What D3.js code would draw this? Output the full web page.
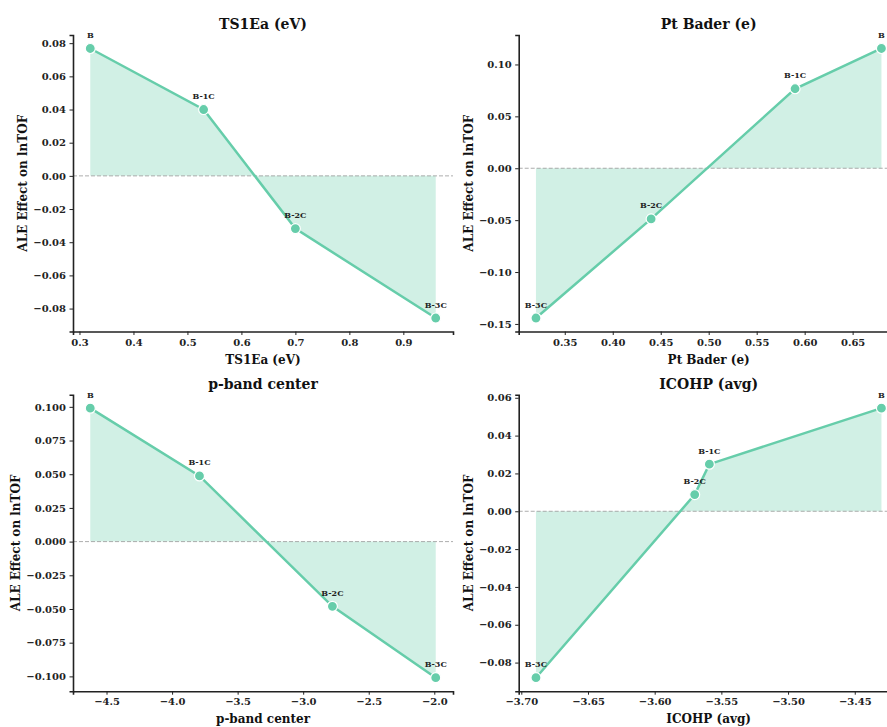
<!DOCTYPE html>
<html>
<head>
<meta charset="utf-8">
<script src="https://cdn.jsdelivr.net/npm/d3@7"></script>
<style>
  body { margin: 0; background: #fff; }
  svg { display: block; font-family: 'DejaVu Serif', serif; font-weight: bold; }
</style>
</head>
<body>
<div id="chart"></div>
<script>
// structures, same order in every panel
const categories = ['B', 'B-1C', 'B-2C', 'B-3C'];

const ts1eaX = [0.32, 0.53, 0.70, 0.96];
const ts1eaY = [0.0768, 0.0400, -0.0318, -0.0857];
const ts1eaXTicks = [0.3, 0.4, 0.5, 0.6, 0.7, 0.8, 0.9];
const ts1eaYTicks = [-0.08, -0.06, -0.04, -0.02, 0.00, 0.02, 0.04, 0.06, 0.08];

const baderX = [0.68, 0.59, 0.44, 0.32];
const baderY = [0.1154, 0.0766, -0.0488, -0.1443];
const baderXTicks = [0.35, 0.40, 0.45, 0.50, 0.55, 0.60, 0.65];
const baderYTicks = [-0.15, -0.10, -0.05, 0.00, 0.05, 0.10];

const pbandX = [-4.624, -3.791, -2.777, -1.989];
const pbandY = [0.0990, 0.0487, -0.0480, -0.1010];
const pbandXTicks = [-4.5, -4.0, -3.5, -3.0, -2.5, -2.0];
const pbandYTicks = [-0.100, -0.075, -0.050, -0.025, 0.000, 0.025, 0.050, 0.075, 0.100];

const icohpX = [-3.430, -3.559, -3.570, -3.689];
const icohpY = [0.0545, 0.0249, 0.0088, -0.0880];
const icohpXTicks = [-3.70, -3.65, -3.60, -3.55, -3.50, -3.45];
const icohpYTicks = [-0.08, -0.06, -0.04, -0.02, 0.00, 0.02, 0.04, 0.06];

const panels = [
  { title: 'TS1Ea (eV)', xs: ts1eaX, ys: ts1eaY, xt: ts1eaXTicks, yt: ts1eaYTicks, xf: '.1f', yf: '.2f', left: 73, top: 35 },
  { title: 'Pt Bader (e)', xs: baderX, ys: baderY, xt: baderXTicks, yt: baderYTicks, xf: '.2f', yf: '.2f', left: 518.7, top: 35 },
  { title: 'p-band center', xs: pbandX, ys: pbandY, xt: pbandXTicks, yt: pbandYTicks, xf: '.1f', yf: '.3f', left: 73, top: 394.7 },
  { title: 'ICOHP (avg)', xs: icohpX, ys: icohpY, xt: icohpXTicks, yt: icohpYTicks, xf: '.2f', yf: '.2f', left: 518.7, top: 394.7 }
];

const width = 887, height = 727;
const axW = 380, axH = 296.5;
const green = '#66cdaa';
const ink = '#222';

const svg = d3.select('#chart').append('svg')
  .attr('width', width)
  .attr('height', height);

// matplotlib style 5% margins
function padded(vals) {
  const [lo, hi] = d3.extent(vals);
  const m = (hi - lo) * 0.05;
  return [lo - m, hi + m];
}

panels.forEach(p => {
  const pts = p.xs.map((x, i) => ({ x: x, y: p.ys[i], name: categories[i] }))
    .sort((a, b) => a.x - b.x);

  const x = d3.scaleLinear().domain(padded(p.xs)).range([0, axW]);
  const y = d3.scaleLinear().domain(padded(p.ys)).range([axH, 0]);

  const g = svg.append('g')
    .attr('transform', `translate(${p.left},${p.top})`);

  g.append('path')
    .datum(pts)
    .attr('fill', green)
    .attr('fill-opacity', 0.3)
    .attr('d', d3.area().x(d => x(d.x)).y0(y(0)).y1(d => y(d.y)));

  g.append('line')
    .attr('x1', 0).attr('x2', axW)
    .attr('y1', y(0)).attr('y2', y(0))
    .attr('stroke', '#999')
    .attr('stroke-opacity', 0.8)
    .attr('stroke-width', 1)
    .attr('stroke-dasharray', '4,2');

  g.append('path')
    .datum(pts)
    .attr('fill', 'none')
    .attr('stroke', green)
    .attr('stroke-width', 2.5)
    .attr('d', d3.line().x(d => x(d.x)).y(d => y(d.y)));

  g.selectAll('.dot')
    .data(pts)
    .enter().append('circle')
    .attr('class', 'dot')
    .attr('cx', d => x(d.x))
    .attr('cy', d => y(d.y))
    .attr('r', 5)
    .attr('fill', green)
    .attr('stroke', '#fff')
    .attr('stroke-width', 1.2);

  g.selectAll('.lbl')
    .data(pts)
    .enter().append('text')
    .attr('class', 'lbl')
    .attr('x', d => x(d.x))
    .attr('y', d => y(d.y) - 10.5)
    .attr('text-anchor', 'middle')
    .attr('font-size', 8)
    .attr('fill', ink)
    .text(d => d.name);

  const xAxisG = g.append('g')
    .attr('transform', `translate(0,${axH})`)
    .call(d3.axisBottom(x).tickValues(p.xt).tickFormat(d3.format(p.xf)).tickSizeOuter(0).tickSize(3.5).tickPadding(3.5));

  const yAxisG = g.append('g')
    .call(d3.axisLeft(y).tickValues(p.yt).tickFormat(d3.format(p.yf)).tickSizeOuter(0).tickSize(3.5).tickPadding(3.5));

  [xAxisG, yAxisG].forEach(a => {
    a.select('.domain').attr('stroke', ink).attr('stroke-width', 1.6);
    a.selectAll('.tick line').attr('stroke', ink).attr('stroke-width', 1);
    a.selectAll('.tick text')
      .attr('fill', ink)
      .style('font-family', 'DejaVu Serif')
      .style('font-weight', 'bold')
      .style('font-size', '10px');
  });

  g.append('text')
    .attr('x', axW / 2)
    .attr('y', -6)
    .attr('text-anchor', 'middle')
    .attr('font-size', 14)
    .attr('fill', '#111')
    .text(p.title);

  g.append('text')
    .attr('x', axW / 2)
    .attr('y', axH + 32)
    .attr('text-anchor', 'middle')
    .attr('font-size', 12)
    .attr('fill', '#111')
    .text(p.title);

  const yb = yAxisG.node().getBBox();
  g.append('text')
    .attr('transform', `translate(${yb.x - 6},${axH / 2}) rotate(-90)`)
    .attr('text-anchor', 'middle')
    .attr('font-size', 12)
    .attr('fill', '#111')
    .text('ALE Effect on lnTOF');
});
</script>
</body>
</html>
